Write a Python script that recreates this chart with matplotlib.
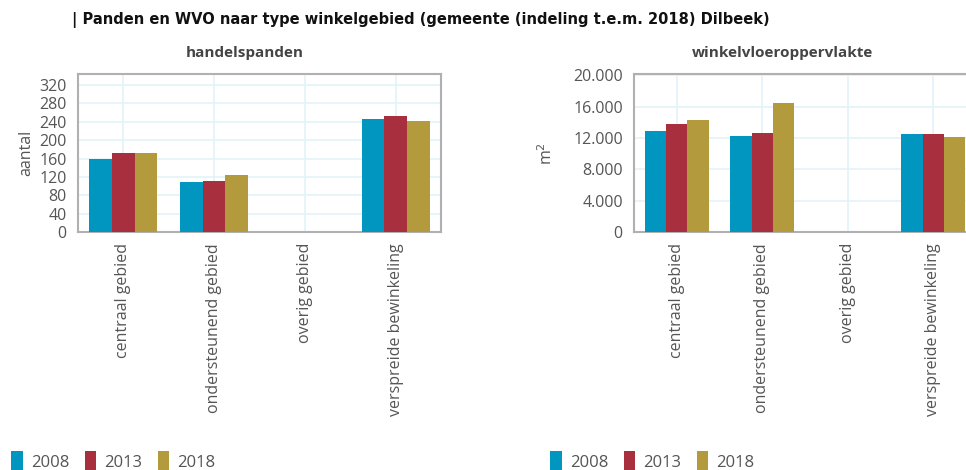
import matplotlib
matplotlib.use("Agg")
import matplotlib.pyplot as plt
from matplotlib.patches import Patch
from matplotlib.ticker import FuncFormatter
import numpy as np

categories = ["centraal gebied", "ondersteunend gebied", "overig gebied",
              "verspreide bewinkeling"]
years = ["2008", "2013", "2018"]

# handelspanden (aantal)
panden_2008 = [158, 108, 0, 246]
panden_2013 = [173, 111, 0, 252]
panden_2018 = [173, 124, 0, 241]

# winkelvloeroppervlakte (m2)
wvo_2008 = [12930, 12290, 0, 12540]
wvo_2013 = [13780, 12670, 0, 12540]
wvo_2018 = [14290, 16470, 0, 12160]

COLORS = ["#0096c0", "#a82f3e", "#b39a3c"]
GRID = "#e3f3fb"
SPINE = "#b0b0b0"
TEXT = "#555555"

plt.rcParams["font.family"] = ["Open Sans", "DejaVu Sans"]

fig = plt.figure(figsize=(9.66, 4.70), dpi=100)


def draw_panel(rect, series, title, title_x, ylabel, labelpad, ymax, yticks,
               fmt=None):
    ax = fig.add_axes(rect)
    x = np.arange(len(categories))
    width = 0.25
    for i, vals in enumerate(series):
        ax.bar(x + (i - 1) * width, vals, width, color=COLORS[i], zorder=3)
    ax.set_xlim(-0.5, len(categories) - 0.5)
    ax.set_ylim(0, ymax)
    ax.set_yticks(yticks)
    ax.set_xticks(x)
    ax.set_xticklabels(categories, rotation=90)
    ax.tick_params(axis="both", length=0, labelsize=11.5, labelcolor=TEXT)
    ax.tick_params(axis="x", pad=8)
    ax.tick_params(axis="y", pad=8)
    if fmt is not None:
        ax.yaxis.set_major_formatter(FuncFormatter(fmt))
    ax.grid(True, color=GRID, linewidth=1.2, zorder=0)
    for s in ax.spines.values():
        s.set_color(SPINE)
        s.set_linewidth(1.5)
    ax.set_title(title, fontsize=11, fontweight="bold", color="#444444",
                 pad=12, x=title_x)
    ax.set_ylabel(ylabel, fontsize=11.5, color=TEXT, labelpad=labelpad)
    return ax


draw_panel([0.0807, 0.5064, 0.3758, 0.336],
           [panden_2008, panden_2013, panden_2018],
           "handelspanden", 0.46, "aantal", 4, 344, range(0, 321, 40))

draw_panel([0.6563, 0.5064, 0.354, 0.336],
           [wvo_2008, wvo_2013, wvo_2018],
           "winkelvloeroppervlakte", 0.433, "m$^2$", 12, 20180,
           range(0, 20001, 4000),
           fmt=lambda v, p: f"{int(v):,}".replace(",", "."))

fig.text(0.0745, 0.957, "| Panden en WVO naar type winkelgebied (gemeente "
         "(indeling t.e.m. 2018) Dilbeek)", fontsize=10.5, fontweight="bold",
         family="DejaVu Sans", color="#111111", va="center")

handles = [Patch(facecolor=c) for c in COLORS]
for xpos in [-0.004, 0.554]:
    fig.legend(handles, years, loc="lower left", bbox_to_anchor=(xpos, -0.035),
               ncol=3, frameon=False, fontsize=12, handlelength=0.7,
               handleheight=1.5, handletextpad=0.5, columnspacing=0.9,
               labelcolor=TEXT)

fig.savefig("out.png", dpi=100)
